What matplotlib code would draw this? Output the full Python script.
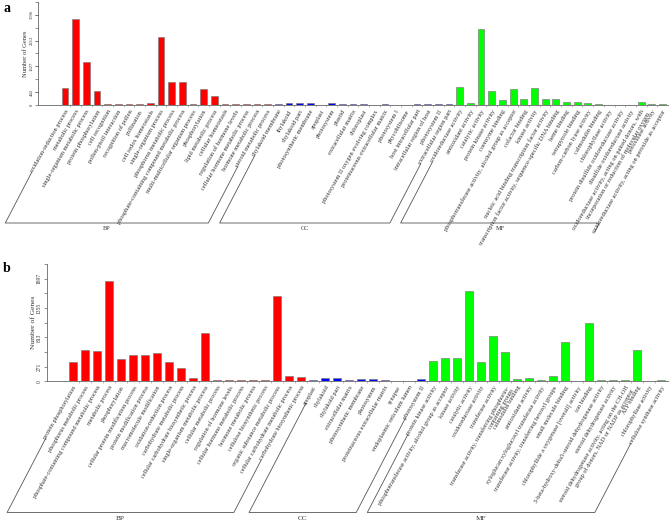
import numpy as np
import matplotlib
matplotlib.use('Agg')
import matplotlib.pyplot as plt
from matplotlib.lines import Line2D

plt.rcParams['font.family'] = ['Liberation Serif', 'DejaVu Serif']

W, H = 669, 521  # output size in pixels (dpi 100)

# ---------------- panel a ----------------
a_bp_terms = ['oxidation-reduction process', 'metabolic process', 'single-organism metabolic process',
              'protein phosphorylation', 'cell recognition', 'pollen-pistil interaction',
              'recognition of pollen', 'pollination', 'cell redox homeostasis',
              'single-organism process', 'phosphorus metabolic process',
              'phosphate-containing compound metabolic process', 'multi-multicellular organism process',
              'phosphorylation', 'lipid metabolic process', 'cellular homeostasis',
              'regulation of hormone levels', 'cellular hormone metabolic process',
              'hormone metabolic process', 'steroid metabolic process']
a_bp_genes = [590, 2935, 1465, 475, 40, 40, 40, 40, 68, 2325, 795, 785, 40, 555, 315, 60, 35, 35, 35, 50]
a_cc_terms = ['thylakoid membrane', 'thylakoid', 'thylakoid part', 'photosynthetic membrane',
              'apoplast', 'photosystem', 'plastid', 'extracellular matrix', 'chloroplast',
              'photosystem II oxygen evolving complex', 'proteinaceous extracellular matrix',
              'photosystem I', 'phycobilisome', 'host intracellular part',
              'intracellular region of host', 'photosystem II', 'extracellular region part']
a_cc_genes = [30, 78, 78, 70, 10, 65, 30, 30, 30, 15, 30, 15, 8, 30, 30, 40, 60]
a_mf_terms = ['oxidoreductase activity', 'antioxidant activity', 'catalytic activity',
              'protein kinase activity', 'coenzyme binding',
              'phosphotransferase activity, alcohol group as acceptor', 'cofactor binding',
              'kinase activity', 'nucleic acid binding transcription factor activity',
              'transcription factor activity, sequence-specific DNA binding', 'heme binding',
              'tetrapyrrole binding', 'carbon-carbon lyase activity', 'calmodulin binding',
              'chlorophyllase activity', 'protein disulfide oxidoreductase activity',
              'disulfide oxidoreductase activity',
              'oxidoreductase activity, acting on paired donors, with\nincorporation or reduction of molecular oxygen',
              'peroxidase activity', 'oxidoreductase activity, acting on peroxide as acceptor']
a_mf_genes = [612, 68, 2620, 486, 180, 565, 214, 588, 225, 225, 102, 102, 68, 34, 10, 20, 20, 102, 30, 30]
a_ymax = 3539
a_yticks = [0, 442, 1327, 2212, 3096]

# ---------------- panel b ----------------
b_bp_terms = ['protein phosphorylation', 'phosphorus metabolic process',
              'phosphate-containing compound metabolic process', 'metabolic process', 'phosphorylation',
              'cellular protein modification process', 'protein modification process',
              'macromolecule modification', 'oxidation-reduction process', 'carbohydrate metabolic process',
              'cellular carbohydrate biosynthetic process', 'single-organism metabolic process',
              'cellular metabolic process', 'regulation of hormone levels',
              'cellular hormone metabolic process', 'hormone metabolic process',
              'cellulose biosynthetic process', 'organic substance metabolic process',
              'cellular carbohydrate metabolic process', 'carbohydrate biosynthetic process']
b_bp_genes = [358, 572, 566, 1851, 420, 486, 486, 523, 353, 243, 60, 888, 24, 30, 30, 30, 25, 1577, 97, 78]
b_cc_terms = ['apoplast', 'thylakoid', 'thylakoid part', 'extracellular matrix', 'photosynthetic membrane',
              'photosystem', 'proteinaceous extracellular matrix', 'synapse',
              'endoplasmic reticulum lumen', 'photosystem II']
b_cc_genes = [18, 60, 60, 30, 48, 45, 30, 8, 3, 45]
b_mf_terms = ['protein kinase activity', 'phosphotransferase activity, alcohol group as acceptor',
              'kinase activity', 'catalytic activity', 'oxidoreductase activity', 'transferase activity',
              'transferase activity, transferring phosphorus-\ncontaining groups', 'calmodulin binding',
              'antioxidant activity', 'xyloglucan:xyloglucosyl transferase activity',
              'transferase activity, transferring hexosyl groups', 'small molecule binding',
              'chlorophyllide a oxygenase [overall] activity', 'ion binding',
              '3-beta-hydroxy-delta5-steroid dehydrogenase activity', 'steroid dehydrogenase activity',
              'steroid dehydrogenase activity, acting on the CH-OH\ngroup of donors, NAD or NADP as acceptor',
              'ATP binding', 'chlorophyllase activity', 'cellulose synthase activity']
b_mf_genes = [371, 426, 438, 1668, 358, 840, 535, 42, 55, 18, 102, 731, 5, 1084, 24, 24, 24, 585, 10, 15]
b_ymax = 2168
b_yticks = [0, 271, 813, 1355, 1897]

group_names = ['BP', 'CC', 'MF']
group_cols = ['#ff0000', '#0000ff', '#00ff00']

fig = plt.figure(figsize=(W / 100, H / 100), dpi=100)


def px(x, y):
    # pixel position (top-left origin) -> figure fraction
    return x / W, 1 - y / H


def panel(terms_list, genes_list, ymax, yticks, axis_x, bar0_x, step, y0_px, ytop_px,
          bar_w, lab_fs, tick_fs, ylab_fs, grp_fs, bot_px, letter, letter_y):
    left, bottom = px(axis_x, y0_px)
    ax = fig.add_axes([left, bottom, (W - axis_x) / W, (y0_px - ytop_px) / H])
    terms = sum(terms_list, [])
    genes = np.concatenate(genes_list)
    cols = sum([[c] * len(t) for c, t in zip(group_cols, terms_list)], [])
    xx = np.arange(len(terms))
    ax.bar(xx, genes, width=bar_w, color=cols, edgecolor='#7a7a7a', linewidth=0.45)
    ax.set_xlim(-(bar0_x - axis_x) / step, (W - bar0_x) / step)
    ax.set_ylim(0, ymax)
    for s in ['top', 'right']:
        ax.spines[s].set_visible(False)
    for s in ['left', 'bottom']:
        ax.spines[s].set_color('#666666')
        ax.spines[s].set_linewidth(0.6)
    ax.set_yticks(yticks)
    ax.set_yticks(np.linspace(0, ymax, 9), minor=True)
    ax.set_yticklabels([str(v) for v in yticks], rotation=90, va='center', fontsize=tick_fs, color='#333333')
    ax.set_xticks(xx[:-1] + 0.5, minor=True)
    ax.set_xticks([])
    ax.tick_params(axis='y', which='both', length=2.2, width=0.5, color='#666666', pad=1.2)
    ax.tick_params(axis='x', which='minor', length=1.3, width=0.4, color='#888888')
    ax.set_ylabel('Number of Genes', fontsize=ylab_fs, color='#333333', labelpad=1)

    texts = []
    for i, t in enumerate(terms):
        tx = ax.annotate(t, xy=(i, 0), xytext=(0, -2.6), textcoords='offset points',
                         rotation=60, rotation_mode='anchor', ha='right', va='top',
                         multialignment='right', fontsize=lab_fs, color='#333333',
                         annotation_clip=False)
        texts.append(tx)

    fig.text(*px(3, letter_y), letter, fontsize=10, fontweight='bold', va='center', ha='left')

    # brackets below the term labels: slanted lines from the first/last label of each group
    fig.canvas.draw()
    rend = fig.canvas.get_renderer()
    h = lab_fs * 100 / 72.0
    yb = H - bot_px
    slope = np.tan(np.radians(62.5))
    k = 0
    for g, tl in enumerate(terms_list):
        ends = []
        for tx in [texts[k], texts[k + len(tl) - 1]]:
            bb = tx.get_window_extent(rend)
            sx = bb.x0 + 0.43 * h
            sy = bb.y0 + 0.25 * h
            ends.append((sx, sy, max(sx - (sy - yb) / slope, 2)))
        k += len(tl)
        xs = [ends[0][0], ends[0][2], ends[1][2], ends[1][0]]
        ys = [ends[0][1], yb, yb, ends[1][1]]
        fig.add_artist(Line2D(np.array(xs) / W, np.array(ys) / H, color='#555555', linewidth=0.6))
        fig.text((ends[0][2] + ends[1][2]) / 2 / W, (yb - 6) / H, group_names[g],
                 fontsize=grp_fs, ha='center', va='center', color='#333333')


panel([a_bp_terms, a_cc_terms, a_mf_terms], [a_bp_genes, a_cc_genes, a_mf_genes], a_ymax, a_yticks,
      38.3, 65.0, 10.67, 105.3, 1.7, 0.63, 4.6, 3.4, 4.7, 4.5, 223, 'a', 8)
panel([b_bp_terms, b_cc_terms, b_mf_terms], [b_bp_genes, b_cc_genes, b_mf_genes], b_ymax, b_yticks,
      46.7, 73.3, 12.0, 381.3, 264.0, 0.68, 4.5, 4.0, 5.4, 5.2, 512.5, 'b', 268)

fig.savefig('out.png', dpi=100)
